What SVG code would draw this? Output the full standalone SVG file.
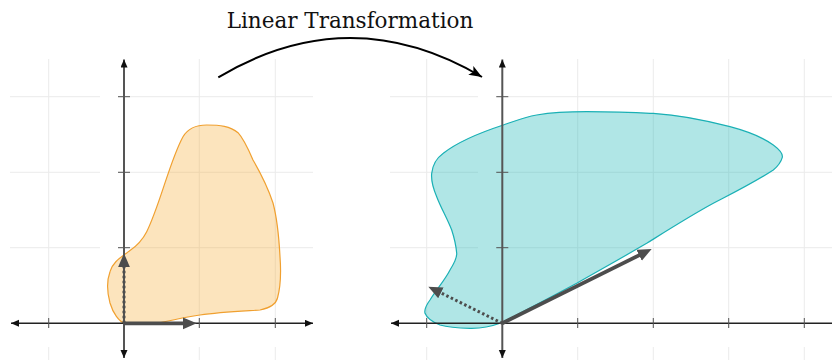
<svg xmlns="http://www.w3.org/2000/svg" width="832" height="360" viewBox="0 0 832 360">
<style>
.grid{stroke:#ebebeb;stroke-width:1;fill:none}
.xaxis{stroke:#222;stroke-width:1.4;fill:none}
.yaxis{stroke:#555;stroke-width:2;fill:none}
.tick{stroke:#555;stroke-width:1;fill:none}
.vec{stroke:#4d4d4d;stroke-width:3.8;fill:none}
.dot{stroke:#4d4d4d;stroke-width:3;fill:none;stroke-dasharray:2.5 2.5}
.title{font-family:"DejaVu Serif","Liberation Serif",serif;font-size:21.5px;fill:#111}
</style>
<defs>
<marker id="ax" markerUnits="userSpaceOnUse" markerWidth="10" markerHeight="8" refX="8" refY="3.5" orient="auto-start-reverse"><path d="M0,0 L8,3.5 L0,7 z" fill="#111"/></marker>
<marker id="va" markerUnits="userSpaceOnUse" markerWidth="16" markerHeight="14" refX="6" refY="6" orient="auto"><path d="M0,0 L14,6 L0,12 z" fill="#4d4d4d"/></marker>
<marker id="ta" markerUnits="userSpaceOnUse" markerWidth="16" markerHeight="12" refX="13" refY="5" orient="auto"><path d="M0,0 L13,5 L0,10 L3,5 z" fill="#000"/></marker>
</defs>

<g id="left-plot">
<g id="left-grid" class="grid">
<path d="M48.7,59V328M48.7,347V360M199.3,59V328M199.3,347V360M275.3,59V328M275.3,347V360"/>
<path d="M10,96.7H100M118,96.7H313M10,172.3H100M118,172.3H313M10,247.7H100M118,247.7H313"/>
</g>
<path id="left-shape" d="M206.7,125 C195,125 187,130 183,136.7 C170,160 160,205 146.7,231.7 C140,245 132,249 126.7,253 C118,259 112,264 110,271.7 C107,280 107,292 110,303 C113,313 119,322 125,323.3 C135,325 145,324.5 155,323.5 C170,321 185,317 200,315 C220,312 245,311 260,310 C270,308 276,304 277.5,298 C281,285 281,270 280,256.7 C279,238 277,218 273,203 C268,188 260,172 253,160 C247,146 242,137 238,132.7 C230,126 220,125 206.7,125 Z" fill="#f5a623" fill-opacity="0.3" stroke="#f0a030" stroke-width="1.2"/>
<g id="left-axes">
<path class="xaxis" d="M11,323.3H313" marker-start="url(#ax)" marker-end="url(#ax)"/>
<path class="yaxis" d="M124,59.5V358" marker-start="url(#ax)" marker-end="url(#ax)"/>
<path class="tick" d="M48.7,318V328M199.3,318V328M275.3,318V328M118,96.7H130M118,172.3H130M118,247.7H130"/>
</g>
<g id="left-vectors">
<path class="dot" d="M124,323.3V261.3" marker-end="url(#va)"/>
<path class="vec" d="M124,323.3H188.7" marker-end="url(#va)"/>
</g>
</g>

<g id="right-plot">
<g id="right-grid" class="grid">
<path d="M426.7,59V328M426.7,347V360M577.7,59V328M577.7,347V360M653.3,59V328M653.3,347V360M728.7,59V328M728.7,347V360M804.3,59V328M804.3,347V360"/>
<path d="M390,96.7H478M496,96.7H832M390,172.3H478M496,172.3H832M390,247.7H478M496,247.7H832"/>
</g>
<path id="right-shape" d="M431.7,173.3 C433,163 437,158 443.3,153.3 C460,140 485,131 503.3,125 C515,121 525,117 536.7,115 C555,112 570,111.7 586.7,111.7 C610,111.7 630,112.5 653.3,113.3 C680,115 705,120 730,126.7 C750,132 765,139 773.3,145 C780,150 783,154 782.3,157.3 C781,162 778,166 773.3,170 C755,182 735,192 713.3,203.3 C690,216 668,230 646.7,243.3 C625,256 600,270 576.7,283.3 C555,295 530,308 513.3,316.7 C508,319.5 503,322 500,323.3 C490,327 480,328.5 470,328.3 C458,328 447,327 440,325 C432,322 427,318 425,313.3 C424,309 427,304 430,300 C436,290 445,280 450,270 C455,262 457,258 456.7,253.3 C456,245 454,237 451.7,230 C447,218 441,208 436.7,196.7 C433,188 431,180 431.7,173.3 Z" fill="#1db8b8" fill-opacity="0.35" stroke="#1ab0b5" stroke-width="1.2"/>
<g id="right-axes">
<path class="xaxis" d="M391,323.3H832" marker-start="url(#ax)"/>
<path class="yaxis" d="M502.3,59.5V358" marker-start="url(#ax)" marker-end="url(#ax)"/>
<path class="tick" d="M426.7,318V328M577.7,318V328M653.3,318V328M728.7,318V328M804.3,318V328M496.3,96.7H508.3M496.3,172.3H508.3M496.3,247.7H508.3"/>
</g>
<g id="right-vectors">
<path class="dot" d="M502.3,323.3L435.5,290.2" marker-end="url(#va)"/>
<path class="vec" d="M502.3,323.3L644.5,252.6" marker-end="url(#va)"/>
</g>
</g>

<g id="connectors">
<path id="transform-arc" d="M218.3,77.3 Q350,-1 482,77" fill="none" stroke="#000" stroke-width="2" marker-end="url(#ta)"/>
</g>
<g id="title">
<text class="title" x="350" y="28" text-anchor="middle">Linear Transformation</text>
</g>
</svg>
